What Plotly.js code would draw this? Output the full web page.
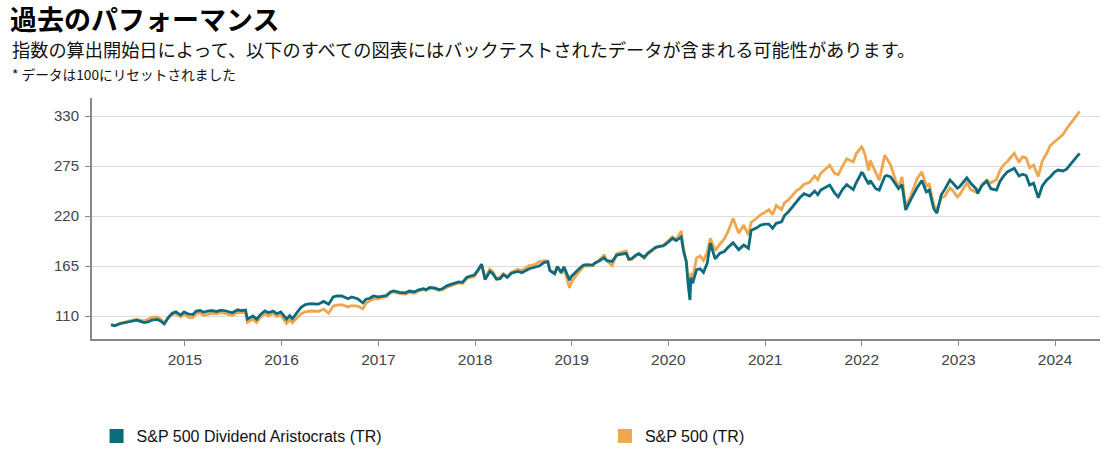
<!DOCTYPE html>
<html>
<head>
<meta charset="utf-8">
<script src="https://cdn.plot.ly/plotly-3.0.1.min.js"></script>
<style>
  html, body { margin: 0; padding: 0; background: #fff; }
  #chart { width: 1110px; height: 450px; }
</style>
</head>
<body>
<div id="chart"></div>
<script>
// ---- Data (rebased to 100) ----
const titleText = "過去のパフォーマンス";
const subtitleText = "指数の算出開始日によって、以下のすべての図表にはバックテストされたデータが含まれる可能性があります。";
const noteText = "* データは100にリセットされました";
const seriesNames = ["S&P 500 Dividend Aristocrats (TR)", "S&P 500 (TR)"];
const yTickVals = [110, 165, 220, 275, 330];
const xTickYears = ["2015", "2016", "2017", "2018", "2019", "2020", "2021", "2022", "2023", "2024"];

const dates = [
  // 2014
  "2014-03-28","2014-04-11","2014-04-30","2014-05-15","2014-05-30","2014-06-20","2014-07-03","2014-07-31","2014-08-15","2014-08-29","2014-09-18","2014-10-01","2014-10-15","2014-10-31","2014-11-14","2014-11-28","2014-12-16","2014-12-29",
  // 2015
  "2015-01-15","2015-01-30","2015-02-13","2015-02-27","2015-03-13","2015-03-31","2015-04-15","2015-04-30","2015-05-20","2015-06-05","2015-06-29","2015-07-20","2015-07-31","2015-08-18","2015-08-25","2015-09-15","2015-09-29","2015-10-15","2015-10-30","2015-11-13","2015-11-30","2015-12-14","2015-12-29",
  // 2016
  "2016-01-12","2016-01-20","2016-02-01","2016-02-11","2016-02-29","2016-03-15","2016-03-31","2016-04-20","2016-05-19","2016-06-08","2016-06-27","2016-07-14","2016-07-29","2016-08-15","2016-09-09","2016-09-22","2016-10-14","2016-11-03","2016-11-15","2016-11-30","2016-12-13","2016-12-30",
  // 2017
  "2017-01-13","2017-01-31","2017-02-15","2017-02-28","2017-03-22","2017-04-13","2017-04-28","2017-05-17","2017-05-31","2017-06-20","2017-06-30","2017-07-14","2017-07-31","2017-08-18","2017-08-31","2017-09-15","2017-09-29","2017-10-20","2017-10-31","2017-11-15","2017-11-30","2017-12-15","2017-12-29",
  // 2018
  "2018-01-12","2018-01-26","2018-02-08","2018-02-26","2018-03-08","2018-03-23","2018-04-06","2018-04-18","2018-05-03","2018-05-18","2018-06-12","2018-06-27","2018-07-25","2018-08-15","2018-08-31","2018-09-20","2018-10-03","2018-10-11","2018-10-29","2018-11-08","2018-11-23","2018-12-03","2018-12-24","2018-12-31",
  // 2019
  "2019-01-15","2019-01-31","2019-02-15","2019-02-28","2019-03-22","2019-03-29","2019-04-15","2019-04-30","2019-05-03","2019-05-13","2019-06-03","2019-06-20","2019-07-15","2019-07-26","2019-08-05","2019-08-15","2019-08-30","2019-09-12","2019-10-02","2019-10-15","2019-10-31","2019-11-15","2019-11-29","2019-12-13","2019-12-31",
  // 2020
  "2020-01-17","2020-01-31","2020-02-19","2020-02-28","2020-03-09","2020-03-16","2020-03-23","2020-03-26","2020-04-02","2020-04-17","2020-04-30","2020-05-13","2020-05-27","2020-06-08","2020-06-26","2020-07-14","2020-07-31","2020-08-14","2020-09-02","2020-09-23","2020-10-12","2020-10-30","2020-11-09","2020-11-30","2020-12-15","2020-12-31",
  // 2021
  "2021-01-15","2021-01-29","2021-02-12","2021-03-04","2021-03-15","2021-03-31","2021-04-15","2021-04-30","2021-05-12","2021-05-28","2021-06-18","2021-07-07","2021-07-19","2021-07-30","2021-08-16","2021-09-02","2021-09-20","2021-10-04","2021-10-20","2021-11-05","2021-11-30","2021-12-10","2021-12-31",
  // 2022
  "2022-01-05","2022-01-14","2022-01-27","2022-02-02","2022-02-23","2022-03-08","2022-03-29","2022-04-05","2022-04-20","2022-05-09","2022-05-20","2022-06-02","2022-06-16","2022-07-05","2022-07-29","2022-08-16","2022-09-02","2022-09-13","2022-09-30","2022-10-12","2022-10-28","2022-11-10","2022-11-30","2022-12-12","2022-12-28",
  // 2023
  "2023-01-05","2023-01-24","2023-02-02","2023-02-17","2023-03-09","2023-03-15","2023-03-31","2023-04-18","2023-05-04","2023-05-25","2023-06-07","2023-06-20","2023-07-05","2023-07-31","2023-08-18","2023-08-31","2023-09-14","2023-09-27","2023-10-12","2023-10-30","2023-11-14","2023-11-30","2023-12-14","2023-12-29",
  // 2024
  "2024-01-12","2024-01-31","2024-02-14","2024-02-29","2024-03-15","2024-04-03"
];

const aristocrats = [
  // 2014
  100.5, 99.2, 101.5, 102.6, 103.5, 104.8, 105.5, 102.8, 103.5, 105.5, 106.2, 104.5, 101.2, 108.5, 113.0, 114.5, 111.0, 114.5,
  // 2015
  112.0, 111.5, 115.5, 116.0, 114.0, 115.5, 116.0, 115.0, 116.5, 115.5, 113.5, 116.8, 116.0, 116.6, 106.5, 110.0, 106.5, 112.0, 115.5, 113.5, 115.5, 112.5, 114.5,
  // 2016
  109.5, 106.5, 110.5, 107.0, 114.0, 119.5, 122.5, 123.5, 123.0, 126.0, 123.0, 131.0, 132.0, 132.0, 129.0, 131.0, 129.0, 124.5, 128.5, 129.5, 132.0, 131.0,
  // 2017
  131.5, 132.5, 136.5, 137.5, 136.0, 135.5, 137.5, 136.5, 138.5, 140.0, 139.0, 141.5, 141.0, 139.0, 140.0, 143.0, 144.5, 147.0, 147.5, 147.0, 152.5, 154.0, 155.0,
  // 2018
  160.5, 167.0, 150.0, 159.0, 157.0, 150.5, 151.0, 155.5, 152.5, 157.0, 159.0, 157.5, 162.0, 163.5, 165.0, 169.0, 169.5, 160.0, 156.5, 164.5, 158.0, 164.0, 149.5, 153.5,
  // 2019
  158.0, 162.5, 166.0, 166.5, 166.0, 168.0, 170.5, 173.5, 174.0, 171.0, 170.0, 177.0, 178.5, 179.0, 172.5, 173.0, 176.5, 178.5, 174.5, 179.0, 182.5, 185.5, 186.5, 187.0, 191.0,
  // 2020
  195.5, 193.0, 197.0, 181.0, 170.0, 145.0, 127.6, 152.0, 146.0, 161.0, 162.0, 158.0, 168.0, 190.0, 173.0, 179.0, 181.0, 185.5, 190.5, 183.0, 188.0, 184.5, 204.0, 207.0, 210.0, 211.0,
  // 2021
  211.0, 206.5, 212.0, 213.5, 220.5, 225.0, 230.5, 236.0, 240.0, 244.5, 242.0, 247.5, 243.5, 248.5, 251.5, 254.0, 245.5, 241.0, 249.0, 254.5, 249.0, 256.0, 267.5,
  // 2022
  267.0, 262.0, 255.0, 259.0, 250.0, 248.5, 263.5, 264.5, 263.0, 255.0, 250.0, 254.5, 226.6, 238.0, 251.0, 259.0, 246.5, 248.5, 228.0, 223.0, 243.0, 249.0, 259.5, 256.0, 250.5,
  // 2023
  252.0, 259.5, 262.0, 256.0, 250.0, 245.0, 253.5, 258.5, 250.0, 248.5, 258.0, 263.5, 268.5, 272.5, 264.0, 266.0, 264.5, 254.0, 256.0, 240.0, 253.0, 259.5, 263.0, 268.0,
  // 2024
  270.5, 269.5, 271.5, 277.0, 282.5, 289.0
];

const sp500 = [
  // 2014
  100.5, 99.5, 101.8, 102.8, 104.2, 105.8, 106.5, 104.5, 106.5, 108.5, 109.0, 106.5, 102.5, 108.5, 111.5, 112.5, 109.0, 112.0,
  // 2015
  108.5, 108.0, 112.5, 113.5, 110.5, 112.0, 113.0, 112.5, 114.0, 112.5, 110.5, 114.0, 113.5, 113.5, 103.0, 106.5, 102.8, 109.0, 112.5, 110.0, 113.0, 109.5, 111.0,
  // 2016
  105.0, 102.0, 105.5, 102.5, 108.0, 112.5, 114.5, 115.5, 115.0, 117.5, 113.0, 121.0, 122.0, 122.5, 120.0, 121.5, 121.0, 118.0, 124.0, 126.5, 129.0, 129.0,
  // 2017
  130.5, 131.0, 135.5, 136.5, 134.5, 134.0, 136.0, 135.0, 137.5, 139.0, 138.0, 140.5, 140.0, 138.0, 139.0, 141.5, 143.0, 146.0, 146.5, 146.0, 151.0, 152.5, 153.5,
  // 2018
  159.5, 167.0, 151.5, 161.5, 159.0, 151.5, 152.5, 156.5, 153.5, 158.0, 161.5, 160.0, 165.5, 166.5, 169.5, 171.0, 170.5, 160.5, 157.0, 164.0, 156.5, 162.5, 141.0, 147.0,
  // 2019
  153.5, 159.5, 164.5, 165.0, 165.5, 168.0, 171.5, 176.0, 177.5, 171.0, 165.5, 178.5, 181.0, 181.5, 172.0, 172.0, 176.0, 178.5, 173.5, 178.0, 181.5, 185.5, 186.5, 188.0, 192.5,
  // 2020
  197.0, 194.0, 203.5, 183.0, 170.0, 150.0, 137.0, 157.0, 152.0, 174.0, 176.0, 171.0, 180.0, 195.5, 182.0, 189.0, 195.0, 203.0, 217.5, 201.0, 210.0, 199.0, 213.0, 217.5, 221.5, 224.0,
  // 2021
  227.0, 221.5, 231.5, 227.0, 234.5, 238.0, 243.5, 248.0, 250.0, 255.0, 257.0, 264.0, 260.0, 267.0, 271.5, 276.0, 267.0, 265.5, 274.5, 283.0, 279.5, 288.0, 296.0,
  // 2022
  294.0, 286.5, 270.0, 281.0, 266.5, 259.5, 287.0, 283.0, 276.0, 259.0, 251.5, 263.0, 230.5, 242.0, 261.0, 268.5, 253.0, 255.0, 232.0, 226.6, 240.0, 241.5, 251.0, 247.5, 241.0,
  // 2023
  243.0, 252.0, 256.5, 249.0, 246.0, 245.5, 254.5, 259.5, 256.5, 260.0, 270.0, 276.0, 280.0, 289.0, 279.0, 285.0, 284.0, 273.0, 276.0, 263.5, 280.5, 288.5, 297.5, 301.0,
  // 2024
  304.5, 309.5, 316.0, 322.0, 327.5, 335.0
];

// ---- Styling ----
const tealColor = "#0C6B7D";
const orangeColor = "#EFA64E";
const jpFont = "'Noto Sans CJK JP', 'Noto Sans', sans-serif";
const latinFont = "'Liberation Sans', Arial, sans-serif";

const traces = [
  { x: dates, y: sp500, type: "scatter", mode: "lines", name: seriesNames[1],
    line: { color: orangeColor, width: 2.8 }, showlegend: false, hoverinfo: "skip" },
  { x: dates, y: aristocrats, type: "scatter", mode: "lines", name: seriesNames[0],
    line: { color: tealColor, width: 2.8 }, showlegend: false, hoverinfo: "skip" },
  // legend swatches (square markers), one per legend box
  { x: [null], y: [null], type: "scatter", mode: "markers", name: seriesNames[0],
    legend: "legend",
    marker: { symbol: "square", size: 14, color: tealColor } },
  { x: [null], y: [null], type: "scatter", mode: "markers", name: seriesNames[1],
    legend: "legend2",
    marker: { symbol: "square", size: 14, color: orangeColor } }
];

const legendCommon = {
  orientation: "h",
  xref: "container", yref: "container",
  xanchor: "left", yanchor: "middle",
  y: 0.031,
  itemwidth: 30,
  font: { family: latinFont, size: 16, color: "#111" },
  bgcolor: "rgba(0,0,0,0)"
};

const layout = {
  width: 1110, height: 450,
  paper_bgcolor: "#fff", plot_bgcolor: "#fff",
  margin: { l: 92, r: 10, t: 98, b: 111, pad: 0, autoexpand: false },
  title: {
    text: "<b>" + titleText + "</b>",
    xref: "container", yref: "container",
    x: 0.009, xanchor: "left", y: 0.954, yanchor: "middle",
    automargin: false,
    font: { family: jpFont, size: 27, color: "#000" }
  },
  annotations: [
    { text: subtitleText, xref: "paper", yref: "paper", x: -0.0813, y: 1.203,
      xanchor: "left", yanchor: "middle", showarrow: false,
      font: { family: jpFont, size: 18.2, color: "#111" } },
    { text: noteText, xref: "paper", yref: "paper", x: -0.0813, y: 1.10,
      xanchor: "left", yanchor: "middle", showarrow: false,
      font: { family: jpFont, size: 13.7, color: "#111" } }
  ],
  xaxis: {
    type: "date",
    range: ["2014-01-15", "2024-06-19"],
    tickmode: "array",
    tickvals: xTickYears.map(y => y + "-01-01"),
    ticktext: xTickYears,
    ticks: "outside", ticklen: 5, tickwidth: 1, tickcolor: "#888",
    showline: true, linecolor: "#888", linewidth: 2,
    showgrid: false, zeroline: false,
    automargin: false,
    tickfont: { family: latinFont, size: 15.5, color: "#444" }
  },
  yaxis: {
    range: [84.7, 349.8],
    tickmode: "array", tickvals: yTickVals,
    ticks: "outside", ticklen: 5, tickwidth: 1, tickcolor: "#888",
    showline: true, linecolor: "#888", linewidth: 2,
    showgrid: true, gridcolor: "#DDDDDD", gridwidth: 1,
    zeroline: false,
    automargin: false,
    ticklabelstandoff: 3,
    tickfont: { family: latinFont, size: 15, color: "#444" }
  },
  showlegend: true,
  legend: Object.assign({}, legendCommon, { x: 0.087 }),
  legend2: Object.assign({}, legendCommon, { x: 0.545 })
};

Plotly.newPlot("chart", traces, layout, { displayModeBar: false, staticPlot: true });
</script>
</body>
</html>
